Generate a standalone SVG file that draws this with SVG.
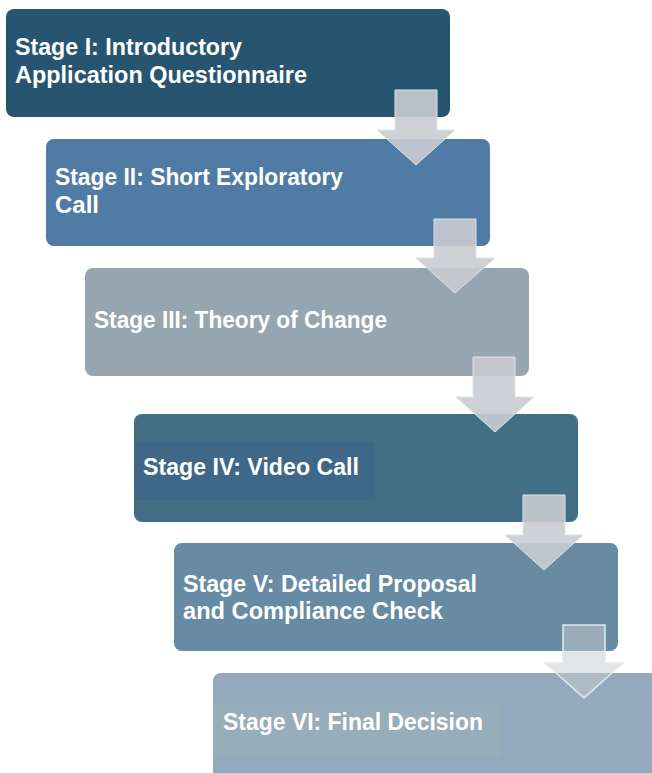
<svg xmlns="http://www.w3.org/2000/svg" width="652" height="773" viewBox="0 0 652 773">
  <style>
    .lbl { font-family: "Liberation Sans", Arial, sans-serif; font-weight: 700; font-size: 23px; fill: #ffffff; }
    .arrow { fill: #c9ccd2; fill-opacity: 0.9; stroke: #dfe3e7; stroke-width: 1; }
    .arrow-light { fill: #c8ccd0; fill-opacity: 0.52; stroke: #e6eaec; stroke-width: 1.5; }
  </style>
  <rect width="652" height="773" fill="#ffffff"/>
  <g id="stage1">
    <rect x="6" y="9" width="444" height="108" rx="8" fill="#27556f"/>
    <text class="lbl" x="15" y="55" textLength="227" lengthAdjust="spacingAndGlyphs">Stage I: Introductory</text>
    <text class="lbl" x="15" y="83" textLength="292" lengthAdjust="spacingAndGlyphs">Application Questionnaire</text>
  </g>
  <g id="stage2">
    <rect x="46" y="139" width="444" height="107" rx="8" fill="#4f7ba5"/>
    <text class="lbl" x="55" y="185" textLength="288" lengthAdjust="spacingAndGlyphs">Stage II: Short Exploratory</text>
    <text class="lbl" x="55" y="213" textLength="44" lengthAdjust="spacingAndGlyphs">Call</text>
  </g>
  <g id="stage3">
    <rect x="85" y="268" width="444" height="108" rx="8" fill="#97a5b0"/>
    <text class="lbl" x="94" y="328" textLength="293" lengthAdjust="spacingAndGlyphs">Stage III: Theory of Change</text>
  </g>
  <g id="stage4">
    <rect x="134" y="414" width="444" height="108" rx="8" fill="#426e86"/>
    <rect x="134" y="442" width="241" height="58" fill="#3f6787"/>
    <text class="lbl" x="143" y="475" textLength="216" lengthAdjust="spacingAndGlyphs">Stage IV: Video Call</text>
  </g>
  <g id="stage5">
    <rect x="174" y="543" width="444" height="108" rx="8" fill="#678ba3"/>
    <text class="lbl" x="183" y="592" textLength="294" lengthAdjust="spacingAndGlyphs">Stage V: Detailed Proposal</text>
    <text class="lbl" x="183" y="619" textLength="260" lengthAdjust="spacingAndGlyphs">and Compliance Check</text>
  </g>
  <g id="stage6">
    <rect x="213" y="673" width="460" height="120" rx="8" fill="#94a9bd"/>
    <rect x="213" y="703" width="287" height="53" fill="#98adbc"/>
    <text class="lbl" x="223" y="730" textLength="260" lengthAdjust="spacingAndGlyphs">Stage VI: Final Decision</text>
  </g>
  <g id="connectors">
    <path class="arrow" d="M395,90 H437 V130 H455 L416,165 L377,130 H395 Z"/>
    <path class="arrow" d="M434,219 H476 V258 H495 L455,293 L416,258 H434 Z"/>
    <path class="arrow" d="M473,357 H515 V397 H534 L495,432 L456,397 H473 Z"/>
    <path class="arrow" d="M523,495 H565 V535 H583 L544,570 L505,535 H523 Z"/>
    <path class="arrow-light" d="M563,625 H605 V663 H623 L584,698 L545,663 H563 Z"/>
  </g>
</svg>
